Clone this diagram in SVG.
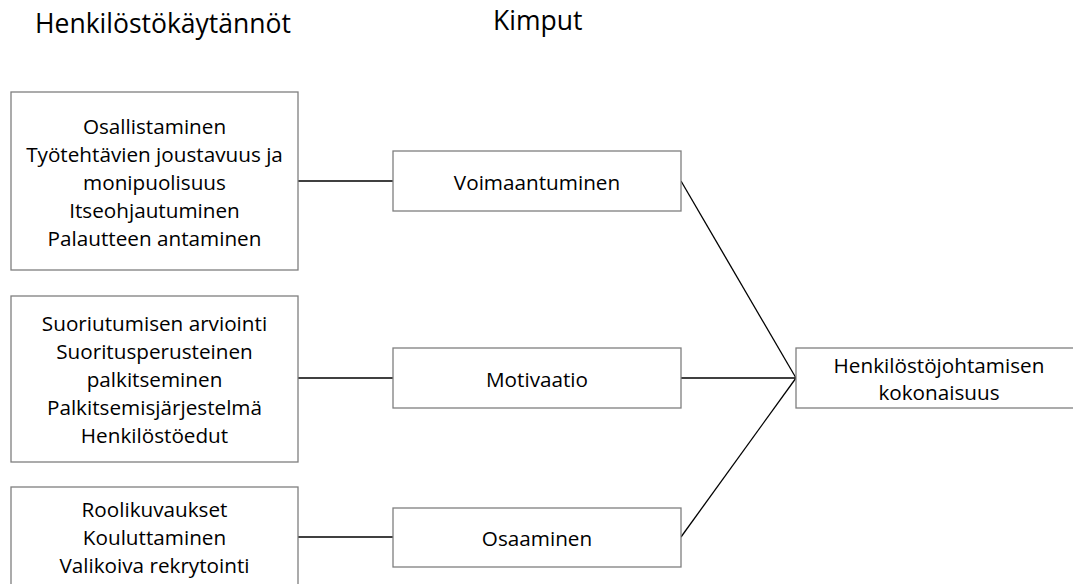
<svg xmlns="http://www.w3.org/2000/svg" width="1073" height="584" viewBox="0 0 1073 584">
<style>
.box{fill:#fff;stroke:#7f7f7f;stroke-width:1.3}
.t{font-family:"Open Sans","Liberation Sans",sans-serif;font-size:20.7px;fill:#000;text-anchor:middle}
.h{font-family:"Open Sans","Liberation Sans",sans-serif;font-size:26.5px;fill:#000}
.c{stroke:#000;stroke-width:1.3;fill:none}
</style>
<rect width="1073" height="584" fill="#fff"/>
<text class="h" x="35" y="33">Henkilöstökäytännöt</text>
<text class="h" x="493" y="30">Kimput</text>
<g id="connectors">
<line class="c" x1="298" y1="181" x2="393" y2="181"/>
<line class="c" x1="298" y1="378" x2="393" y2="378"/>
<line class="c" x1="298" y1="537" x2="393" y2="537"/>
<line class="c" x1="681" y1="181" x2="796" y2="378"/>
<line class="c" x1="681" y1="378" x2="796" y2="378"/>
<line class="c" x1="681" y1="537" x2="796" y2="378"/>
</g>
<g id="practices1">
<rect class="box" x="11" y="92" width="287" height="178"/>
<text class="t"><tspan x="154.5" y="134">Osallistaminen</tspan><tspan x="154.5" y="162">Työtehtävien joustavuus ja</tspan><tspan x="154.5" y="190">monipuolisuus</tspan><tspan x="154.5" y="218">Itseohjautuminen</tspan><tspan x="154.5" y="246">Palautteen antaminen</tspan></text>
</g>
<g id="practices2">
<rect class="box" x="11" y="296" width="287" height="166"/>
<text class="t"><tspan x="154.5" y="331">Suoriutumisen arviointi</tspan><tspan x="154.5" y="359">Suoritusperusteinen</tspan><tspan x="154.5" y="387">palkitseminen</tspan><tspan x="154.5" y="415">Palkitsemisjärjestelmä</tspan><tspan x="154.5" y="443">Henkilöstöedut</tspan></text>
</g>
<g id="practices3">
<rect class="box" x="11" y="487" width="287" height="110"/>
<text class="t"><tspan x="154.5" y="517">Roolikuvaukset</tspan><tspan x="154.5" y="545">Kouluttaminen</tspan><tspan x="154.5" y="573">Valikoiva rekrytointi</tspan></text>
</g>
<g id="voimaantuminen">
<rect class="box" x="393" y="151" width="288" height="60"/>
<text class="t" x="537" y="190">Voimaantuminen</text>
</g>
<g id="motivaatio">
<rect class="box" x="393" y="348" width="288" height="60"/>
<text class="t" x="537" y="387">Motivaatio</text>
</g>
<g id="osaaminen">
<rect class="box" x="393" y="508" width="288" height="59"/>
<text class="t" x="537" y="546">Osaaminen</text>
</g>
<g id="kokonaisuus">
<rect class="box" x="796" y="348" width="290" height="60"/>
<text class="t"><tspan x="939" y="373">Henkilöstöjohtamisen</tspan><tspan x="939" y="400">kokonaisuus</tspan></text>
</g>
</svg>
